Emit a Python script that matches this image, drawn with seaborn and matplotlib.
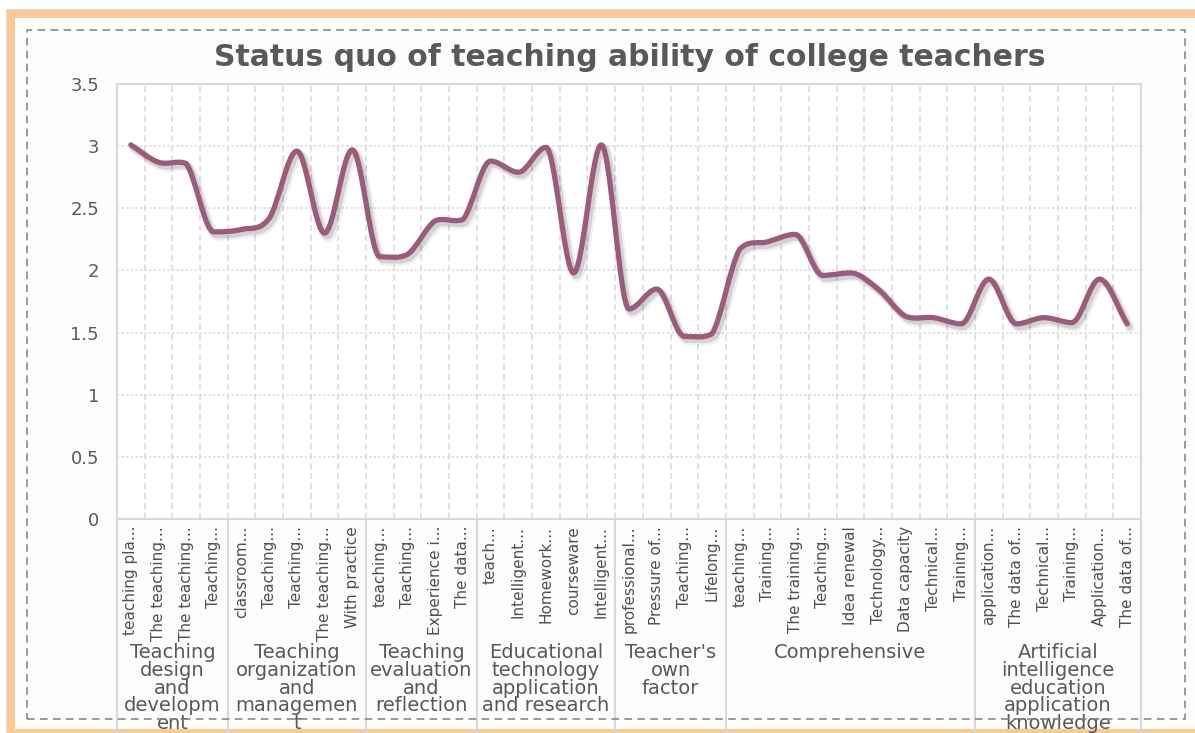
import numpy as np
import pandas as pd
import matplotlib
matplotlib.use("Agg")
import matplotlib.pyplot as plt
import matplotlib.patheffects as pe
import seaborn as sns
from matplotlib.path import Path
from matplotlib.patches import PathPatch, Rectangle

# ---- data ----
groups = [
    "Teaching\ndesign\nand\ndevelopm\nent",
    "Teaching\norganization\nand\nmanagemen\nt",
    "Teaching\nevaluation\nand\nreflection",
    "Educational\ntechnology\napplication\nand research",
    "Teacher's\nown\nfactor",
    "Comprehensive",
    "Artificial\nintelligence\neducation\napplication\nknowledge",
]
group_sizes = [4, 5, 4, 5, 4, 9, 6]

items = [
    "teaching pla...", "The teaching...", "The teaching...", "Teaching...",
    "classroom...", "Teaching...", "Teaching...", "The teaching...", "With practice",
    "teaching...", "Teaching...", "Experience i...", "The data...",
    "teach...", "Intelligent...", "Homework...", "courseware", "Intelligent...",
    "professional...", "Pressure of...", "Teaching...", "Lifelong...",
    "teaching...", "Training...", "The training...", "Teaching...", "Idea renewal",
    "Technology...", "Data capacity", "Technical...", "Training...",
    "application...", "The data of...", "Technical...", "Training...",
    "Application...", "The data of...",
]
scores = [
    3.01, 2.87, 2.86, 2.31,
    2.33, 2.42, 2.96, 2.30, 2.97,
    2.11, 2.13, 2.40, 2.41,
    2.88, 2.79, 2.99, 1.98, 3.01,
    1.69, 1.85, 1.47, 1.49,
    2.17, 2.23, 2.29, 1.96, 1.98, 1.85, 1.63, 1.62, 1.57,
    1.93, 1.57, 1.62, 1.58, 1.93, 1.57,
]

LINE = "#9a5c7a"
TXT = "#595959"
GRID = "#d9d9d9"
PEACH = "#fdc896"
BG = "#fdfdfd"
W, H = 1195, 733

sns.set_theme(style="white")
plt.rcParams["font.family"] = ["DejaVu Sans"]

fig = plt.figure(figsize=(W / 100, H / 100), dpi=100, facecolor=BG)


def frame_rect(x0, y0, x1, y1, **kw):
    # pixel box measured from the top-left corner -> figure fraction rectangle
    fig.patches.append(Rectangle((x0 / W, 1 - y1 / H), (x1 - x0) / W, (y1 - y0) / H,
                                 transform=fig.transFigure, **kw))


# outer frame: white margin, thin grey edge, peach band on top / left / bottom
frame_rect(0, 0, W, 9, facecolor="white", edgecolor="none", zorder=-2)
frame_rect(0, 0, 6, H, facecolor="white", edgecolor="none", zorder=-2)
frame_rect(6, 9, W, 10, facecolor="#dcdcdc", edgecolor="none", zorder=-2)
frame_rect(6, 9, 7, H, facecolor="#dcdcdc", edgecolor="none", zorder=-2)
frame_rect(7, 10, W, 18, facecolor=PEACH, edgecolor="none", zorder=-2)
frame_rect(7, 10, 15, H, facecolor=PEACH, edgecolor="none", zorder=-2)
frame_rect(7, H - 4, W, H, facecolor=PEACH, edgecolor="none", zorder=-2)
# right edge has no peach band, just the chart background
frame_rect(1187, 18, W, H - 4, facecolor=BG, edgecolor="none", zorder=10)
frame_rect(27, 30, 1185, 719, fill=False, edgecolor="#7f7f7f", linewidth=1.1,
           linestyle=(0, (5, 3.5)), zorder=11)

ax = fig.add_axes([117 / W, 1 - 519 / H, (1141 - 117) / W, (519 - 84) / H])
ax.set_facecolor("white")

df = pd.DataFrame({"pos": np.arange(len(items)), "score": scores})
sns.lineplot(data=df, x="pos", y="score", ax=ax, color=LINE, linewidth=3.8)

# smoothed line like Excel: cubic Bezier through the same points,
# flat tangents at local extremes so the curve does not overshoot much
line = ax.lines[0]
xs = np.asarray(line.get_xdata(), float)
ys = np.asarray(line.get_ydata(), float)
line.set_visible(False)
n = len(xs)
tang = np.zeros(n)
for i in range(n):
    lo, hi = max(i - 1, 0), min(i + 1, n - 1)
    tang[i] = (ys[hi] - ys[lo]) / (xs[hi] - xs[lo])
    if 0 < i < n - 1 and (ys[i] - ys[i - 1]) * (ys[i + 1] - ys[i]) <= 0:
        tang[i] = 0.0
verts = [(xs[0], ys[0])]
codes = [Path.MOVETO]
for i in range(n - 1):
    dx = xs[i + 1] - xs[i]
    y_lo, y_hi = sorted((ys[i], ys[i + 1]))
    c1 = np.clip(ys[i] + tang[i] * dx / 3, y_lo - 0.02, y_hi + 0.02)
    c2 = np.clip(ys[i + 1] - tang[i + 1] * dx / 3, y_lo - 0.02, y_hi + 0.02)
    verts += [(xs[i] + dx / 3, c1), (xs[i + 1] - dx / 3, c2), (xs[i + 1], ys[i + 1])]
    codes += [Path.CURVE4] * 3
curve = PathPatch(Path(verts, codes), fill=False, edgecolor=LINE,
                  linewidth=3.8, capstyle="round", joinstyle="round", zorder=4)
curve.set_path_effects([
    pe.Stroke(offset=(2.4, -2.8), linewidth=7, foreground="black", alpha=0.06),
    pe.Stroke(offset=(1.8, -2.2), linewidth=4.8, foreground="black", alpha=0.12),
    pe.Normal(),
])
ax.add_patch(curve)

ax.set_xlim(-0.5, len(items) - 0.5)
ax.set_ylim(0, 3.5)
ax.set_yticks(np.arange(0, 3.51, 0.5))
ax.set_yticklabels([f"{v:g}" for v in np.arange(0, 3.51, 0.5)])
ax.set_xticks(np.arange(len(items)))
ax.set_xticklabels(items, rotation=90, family=["Liberation Sans Narrow", "DejaVu Sans"])
ax.set_xticks(np.arange(-0.5, len(items), 1), minor=True)
ax.set_xlabel("")
ax.set_ylabel("")

ax.tick_params(axis="x", which="major", length=0, pad=5, labelsize=11, labelcolor="#505050")
ax.tick_params(axis="x", which="minor", length=4, color=GRID, width=1.2)
ax.tick_params(axis="y", length=0, pad=13, labelsize=13, labelcolor=TXT)
ax.yaxis.grid(True, linestyle=(0, (1.5, 1.5)), color=GRID, linewidth=1.1)
ax.xaxis.grid(True, which="minor", linestyle=(0, (4, 2.5)), color=GRID, linewidth=1.1)
ax.xaxis.grid(False, which="major")
for s in ax.spines.values():
    s.set_visible(True)
    s.set_color(GRID)
    s.set_linewidth(1.5)

# group separators and group names under the item labels
bounds = np.concatenate([[0], np.cumsum(group_sizes)]) - 0.5
depth = (H - 519) / (519 - 84)
for b in bounds:
    ax.plot([b, b], [0, -depth], transform=ax.get_xaxis_transform(),
            color=GRID, linewidth=1.5, clip_on=False)
for g, lo, hi in zip(groups, bounds[:-1], bounds[1:]):
    ax.text((lo + hi) / 2, -(643 - 519) / (519 - 84), g,
            transform=ax.get_xaxis_transform(), ha="center", va="top",
            multialignment="center", fontsize=14, color=TXT, linespacing=0.92)

fig.text(630 / W, 1 - 58 / H, "Status quo of teaching ability of college teachers",
         ha="center", va="center", fontsize=21.5, fontweight="bold", color=TXT)

fig.savefig("out.png", dpi=100, facecolor=fig.get_facecolor())
